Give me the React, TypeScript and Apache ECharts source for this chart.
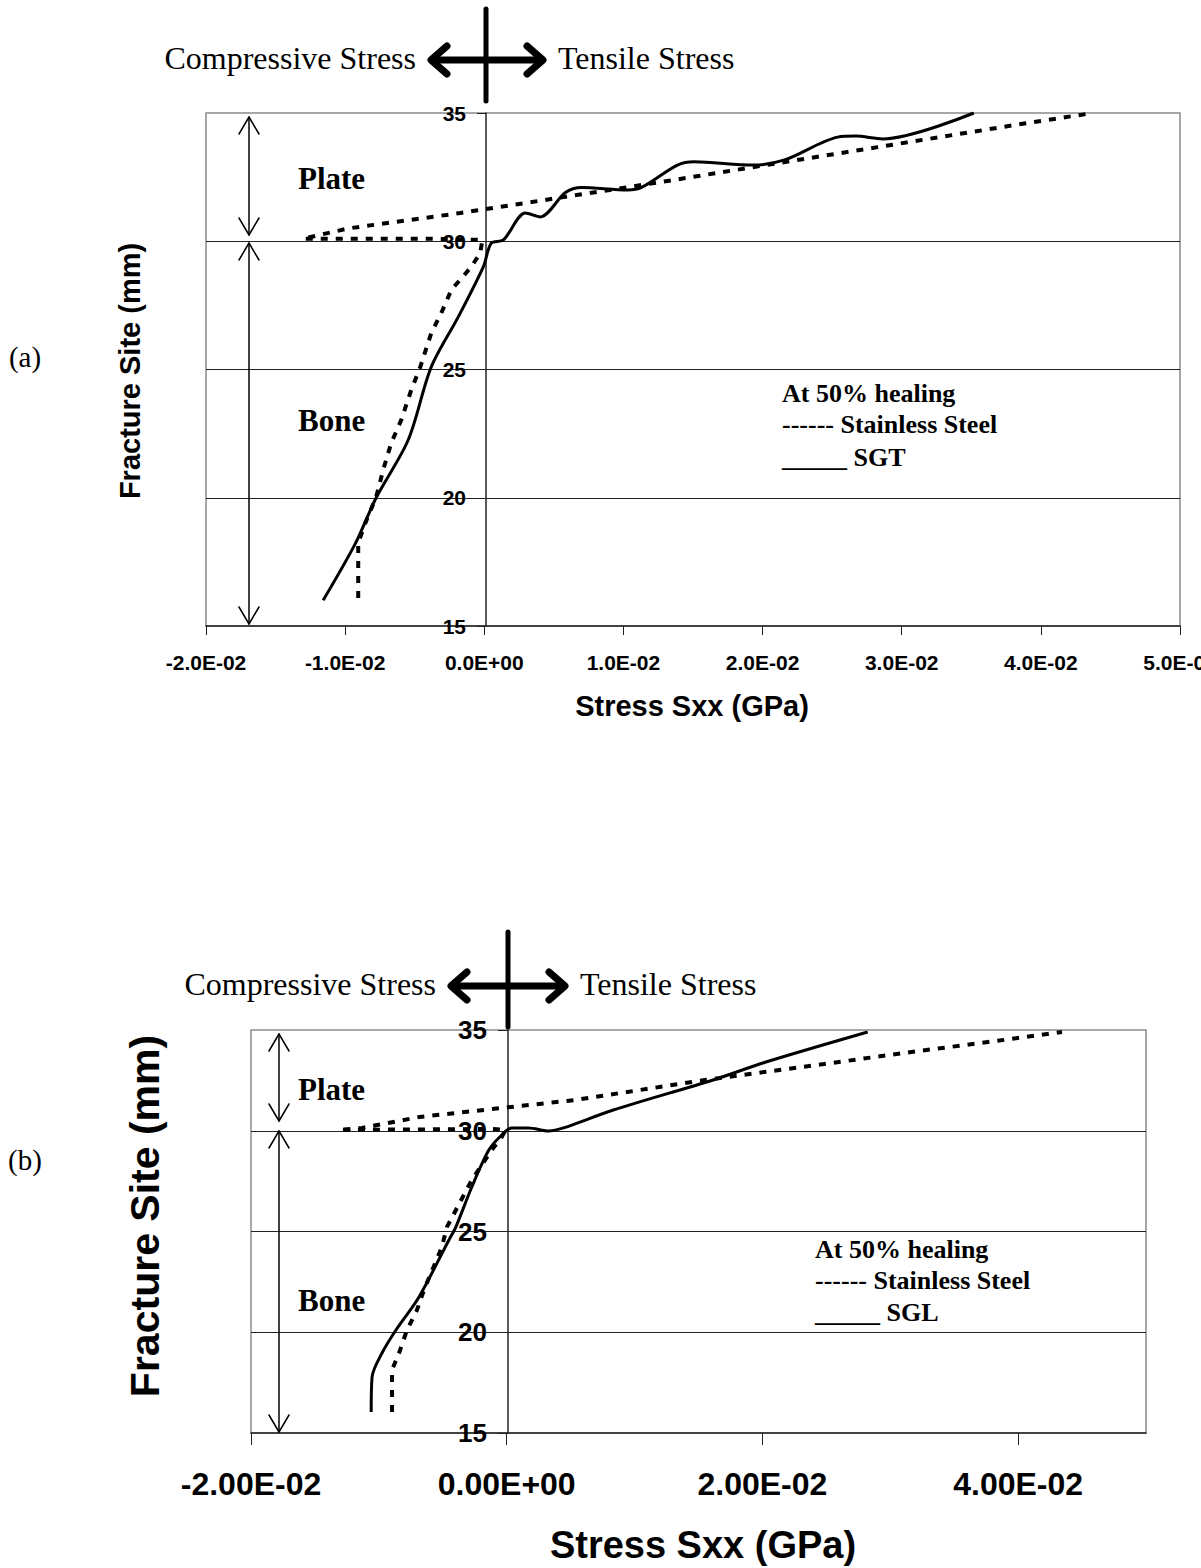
import React, { useEffect, useRef } from "react";
import * as echarts from "echarts";

// ---- Data (Stress Sxx in GPa, Fracture Site in mm) ----
// Panel (a): At 50% healing, Stainless Steel vs SGT
const sgtA: [number, number][] = [
  [-0.01158, 16.0], [-0.00928, 18.2], [-0.00777, 20.0], [-0.00547, 22.25],
  [-0.00381, 25.1], [-0.00187, 27.05], [-0.00007, 29.0], [0.0005, 29.93],
  [0.00137, 30.05], [0.00295, 31.1], [0.00403, 30.95], [0.00583, 31.9],
  [0.00698, 32.1], [0.01029, 32.0], [0.0113, 32.1], [0.01388, 32.97],
  [0.0151, 33.1], [0.01928, 32.97], [0.02158, 33.17], [0.0254, 34.06],
  [0.02669, 34.1], [0.02863, 33.99], [0.03518, 35.0],
];
const steelA: [number, number][] = [
  [-0.00906, 16.09], [-0.00906, 18.24], [-0.00856, 19.0], [-0.00777, 20.03],
  [-0.00727, 21.08], [-0.00669, 22.13], [-0.00597, 23.03], [-0.00525, 24.2],
  [-0.0046, 25.1], [-0.00381, 26.42], [-0.00309, 27.2], [-0.00237, 28.1],
  [-0.00094, 29.0], [-0.00029, 29.54], [-0.00014, 30.05], [-0.00403, 30.1],
  [-0.01302, 30.1], [-0.00978, 30.5], [-0.00173, 31.1], [0.00424, 31.6],
  [0.01259, 32.3], [0.019, 32.86], [0.02827, 33.67], [0.03892, 34.6],
  [0.04374, 35.0],
];
// Panel (b): At 50% healing, Stainless Steel vs SGL
const sglB: [number, number][] = [
  [-0.0106, 16.04], [-0.01053, 17.78], [-0.00975, 18.97], [-0.00866, 20.11],
  [-0.00686, 21.75], [-0.00452, 24.58], [-0.00398, 25.22], [-0.00273, 27.21],
  [-0.0014, 29.04], [-0.00039, 29.79], [0.00039, 30.14], [0.00172, 30.14],
  [0.00327, 29.99], [0.00444, 30.14], [0.00834, 31.03], [0.01614, 32.52],
  [0.02027, 33.41], [0.02823, 34.9],
];
const steelB: [number, number][] = [
  [-0.00897, 16.04], [-0.00897, 18.13], [-0.00842, 18.97], [-0.0078, 20.11],
  [-0.00702, 21.1], [-0.00647, 22.1], [-0.00507, 24.23], [-0.00468, 25.22],
  [-0.00273, 27.56], [-0.00117, 29.04], [-0.00039, 29.69], [-0.00008, 30.04],
  [-0.00117, 30.09], [-0.0131, 30.04], [-0.01131, 30.14], [-0.00686, 30.68],
  [-0.00039, 31.13], [0.00538, 31.53], [0.01552, 32.52], [0.0248, 33.31],
  [0.03166, 33.91], [0.03821, 34.45], [0.04343, 34.9],
];

const xTicksB = [-0.02, 0, 0.02, 0.04];

const SANS = "'Liberation Sans', Arial, sans-serif";
const SERIF = "'Liberation Serif', 'Times New Roman', serif";

function sci(v: number, d: number): string {
  if (Math.abs(v) < 1e-12) return (0).toFixed(d) + "E+00";
  const e = Math.floor(Math.log10(Math.abs(v)) + 1e-9);
  const m = v / Math.pow(10, e);
  const es = (e < 0 ? "-" : "+") + String(Math.abs(e)).padStart(2, "0");
  return m.toFixed(d) + "E" + es;
}

function txt(text: string, x: number, y: number, font: string, align = "left", rotation = 0) {
  return {
    type: "text",
    x,
    y,
    rotation,
    style: { text, font, fill: "#000", align, verticalAlign: "middle" },
    z: 100,
  };
}

function ln(x1: number, y1: number, x2: number, y2: number, w: number) {
  return {
    type: "line",
    shape: { x1, y1, x2, y2 },
    style: { stroke: "#000", lineWidth: w, lineCap: "round" },
    z: 100,
  };
}

function pl(points: number[][], w: number) {
  return {
    type: "polyline",
    shape: { points },
    style: { stroke: "#000", lineWidth: w, fill: null, lineCap: "round", lineJoin: "round" },
    z: 100,
  };
}

function header(cx: number, cy: number, top: number, bottom: number, leftTip: number, rightTip: number) {
  return [
    txt("Compressive Stress", leftTip - 13, cy - 2, `32px ${SERIF}`, "right"),
    txt("Tensile Stress", rightTip + 13, cy - 2, `32px ${SERIF}`, "left"),
    ln(cx, top, cx, bottom, 5),
    ln(leftTip + 3, cy, rightTip - 3, cy, 7),
    pl([[leftTip + 18, cy - 14], [leftTip + 2, cy], [leftTip + 18, cy + 14]], 7),
    pl([[rightTip - 18, cy - 14], [rightTip - 2, cy], [rightTip - 18, cy + 14]], 7),
  ];
}

function dblArrow(x: number, y1: number, y2: number) {
  return [
    ln(x, y1, x, y2, 1.5),
    pl([[x - 10, y1 + 17], [x, y1], [x + 10, y1 + 17]], 1.5),
    pl([[x - 10, y2 - 17], [x, y2], [x + 10, y2 - 17]], 1.5),
  ];
}

export default function App() {
  const ref = useRef<HTMLDivElement>(null);
  useEffect(() => {
    if (!ref.current) return;
    const chart = echarts.init(ref.current, null, { renderer: "svg" });
    const axisLineStyle = { color: "#222", width: 1.5 };
    const option: any = {
      animation: false,
      backgroundColor: "#fff",
      grid: [
        { left: 206, top: 113, width: 974, height: 513, show: true, borderColor: "#8a8a8a", borderWidth: 1.5, containLabel: false, outerBoundsMode: "none" },
        { left: 251, top: 1030, width: 895, height: 403, show: true, borderColor: "#8a8a8a", borderWidth: 1.5, containLabel: false, outerBoundsMode: "none" },
      ],
      xAxis: [
        {
          gridIndex: 0, type: "value", min: -0.02, max: 0.05, interval: 0.01,
          axisLine: { onZero: false, lineStyle: axisLineStyle },
          axisTick: { show: true, length: 9, lineStyle: { color: "#222" } },
          axisLabel: { formatter: (v: number) => sci(v, 1), fontFamily: SANS, fontWeight: "bold", fontSize: 21, color: "#000", margin: 26, hideOverlap: false },
          splitLine: { show: false },
        },
        {
          gridIndex: 1, type: "value", min: -0.02, max: 0.05,
          axisLine: { onZero: false, lineStyle: axisLineStyle },
          axisTick: { show: true, length: 12, lineStyle: { color: "#222" }, customValues: xTicksB },
          axisLabel: { formatter: (v: number) => sci(v, 2), fontFamily: SANS, fontWeight: "bold", fontSize: 32, color: "#000", margin: 35, customValues: xTicksB },
          splitLine: { show: false },
        },
      ],
      yAxis: [
        {
          gridIndex: 0, type: "value", min: 15, max: 35, interval: 5, offset: -280,
          axisLine: { onZero: false, lineStyle: axisLineStyle },
          axisTick: { show: true, length: 9, lineStyle: { color: "#222" } },
          axisLabel: { fontFamily: SANS, fontWeight: "bold", fontSize: 21, color: "#000", margin: 20 },
          splitLine: { show: true, showMinLine: false, showMaxLine: false, lineStyle: { color: "#222", width: 1.2 } },
        },
        {
          gridIndex: 1, type: "value", min: 15, max: 35, interval: 5, offset: -257,
          axisLine: { onZero: false, lineStyle: axisLineStyle },
          axisTick: { show: true, length: 10, lineStyle: { color: "#222" } },
          axisLabel: { fontFamily: SANS, fontWeight: "bold", fontSize: 26, color: "#000", margin: 21 },
          splitLine: { show: true, showMinLine: false, showMaxLine: false, lineStyle: { color: "#222", width: 1.2 } },
        },
      ],
      series: [
        { name: "SGT", type: "line", xAxisIndex: 0, yAxisIndex: 0, data: sgtA, symbol: "none", smooth: 0.3, lineStyle: { color: "#000", width: 3 }, z: 5 },
        { name: "Stainless Steel", type: "line", xAxisIndex: 0, yAxisIndex: 0, data: steelA, symbol: "none", lineStyle: { color: "#000", width: 4, type: [7, 8] }, z: 4 },
        { name: "SGL", type: "line", xAxisIndex: 1, yAxisIndex: 1, data: sglB, symbol: "none", smooth: 0.3, lineStyle: { color: "#000", width: 3 }, z: 5 },
        { name: "Stainless Steel", type: "line", xAxisIndex: 1, yAxisIndex: 1, data: steelB, symbol: "none", lineStyle: { color: "#000", width: 4, type: [7, 8] }, z: 4 },
      ],
      graphic: [
        // panel (a)
        ...header(486, 60, 9, 101, 429, 545),
        txt("(a)", 25, 357, `29px ${SERIF}`, "center"),
        txt("Fracture Site (mm)", 130, 371, `bold 29px ${SANS}`, "center", Math.PI / 2),
        txt("Stress Sxx (GPa)", 692, 706, `bold 29px ${SANS}`, "center"),
        txt("Plate", 298, 178, `bold 31px ${SERIF}`),
        txt("Bone", 298, 420, `bold 31px ${SERIF}`),
        ...dblArrow(249, 117, 235),
        ...dblArrow(249, 243, 624),
        txt("At 50% healing", 782, 393, `bold 26px ${SERIF}`),
        txt("------ Stainless Steel", 782, 424, `bold 26px ${SERIF}`),
        txt("_____ SGT", 782, 457, `bold 26px ${SERIF}`),
        // panel (b)
        ...header(508, 986, 932, 1027, 449, 567),
        txt("(b)", 25, 1160, `29px ${SERIF}`, "center"),
        txt("Fracture Site (mm)", 145, 1216, `bold 41px ${SANS}`, "center", Math.PI / 2),
        txt("Stress Sxx (GPa)", 703, 1545, `bold 38px ${SANS}`, "center"),
        txt("Plate", 298, 1089, `bold 31px ${SERIF}`),
        txt("Bone", 298, 1300, `bold 31px ${SERIF}`),
        ...dblArrow(279, 1034, 1121),
        ...dblArrow(279, 1131, 1432),
        txt("At 50% healing", 815, 1249, `bold 26px ${SERIF}`),
        txt("------ Stainless Steel", 815, 1280, `bold 26px ${SERIF}`),
        txt("_____ SGL", 815, 1312, `bold 26px ${SERIF}`),
      ],
    };
    chart.setOption(option);
    return () => chart.dispose();
  }, []);
  return (
    <div
      ref={ref}
      style={{ position: "absolute", left: 0, top: 0, width: 1201, height: 1568, background: "#fff" }}
    />
  );
}
